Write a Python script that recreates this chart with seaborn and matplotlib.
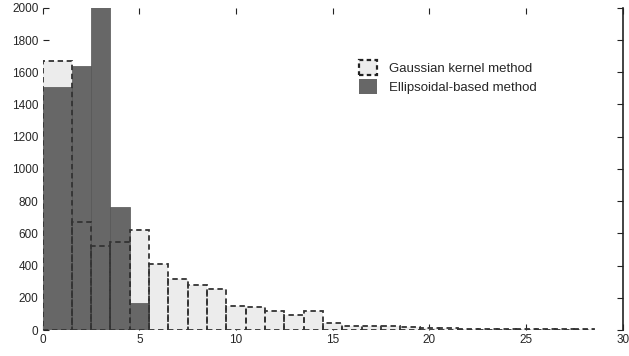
import matplotlib
matplotlib.use("Agg")
import matplotlib.pyplot as plt
import matplotlib.patches as mpatches
import numpy as np
import seaborn as sns

# bordes de los bins (el primero va de 0 a 1.5)
bordes = [0, 1.5] + [k + 0.5 for k in range(2, 29)]
centros = [0.75] + list(range(2, 29))

# Metodo de kernel gaussiano
gauss = [1670, 670, 522, 548, 621, 408, 317, 280, 253, 149,
         141, 118, 93, 115, 45, 28, 27, 22, 18, 12,
         10, 9, 8, 7, 6, 6, 5, 5]

# Metodo basado en elipsoides
elip_centros = [0.75, 2, 3, 4, 5]
elip = [1510, 1640, 2060, 765, 170]

sns.set_style("white")
plt.rcParams['font.family'] = ['Liberation Sans', 'DejaVu Sans']

fig = plt.figure(figsize=(6.29, 3.56), dpi=100)
ax = fig.add_axes([0.068, 0.073, 0.922, 0.905])

gris_claro = "#ececec"
gris_osc = "#676767"

sns.histplot(x=centros, weights=gauss, bins=bordes, color=gris_claro,
             alpha=1, edgecolor="none", linewidth=0, ax=ax)
sns.histplot(x=elip_centros, weights=elip, bins=bordes[:6], color=gris_osc,
             alpha=1, edgecolor="#555555", linewidth=0.5, ax=ax)
sns.histplot(x=centros, weights=gauss, bins=bordes, fill=False,
             color="#333333", linewidth=1.3, linestyle=(0, (3, 2)), ax=ax)

ax.set_xlim(0, 30)
ax.set_ylim(0, 2000)
ax.set_xticks(range(0, 31, 5))
ax.set_yticks(range(0, 2001, 200))
ax.set_xlabel("")
ax.set_ylabel("")

for lado in ["left", "top", "bottom"]:
    ax.spines[lado].set_visible(False)
ax.spines["right"].set_color("#222222")
ax.spines["right"].set_linewidth(1.2)
ax.tick_params(axis="y", left=True, right=True, direction="in", length=4,
               width=0.8, labelsize=8.5, pad=3, color="#222222")
ax.tick_params(axis="x", bottom=True, top=True, direction="in", length=4,
               width=0.8, labelsize=8.5, pad=3, color="#222222")

h_gauss = mpatches.Patch(facecolor=gris_claro, edgecolor="#222222",
                         linestyle=(0, (2, 1.5)), linewidth=1.6,
                         label="Gaussian kernel method")
h_elip = mpatches.Patch(facecolor=gris_osc, edgecolor="none",
                        label="Ellipsoidal-based method")
ax.legend(handles=[h_gauss, h_elip], loc="upper left",
          bbox_to_anchor=(0.525, 0.875), frameon=False, fontsize=9.5,
          handlelength=1.35, handleheight=1.35, handletextpad=0.9,
          labelspacing=0.3)

fig.savefig("out.png", dpi=100)
